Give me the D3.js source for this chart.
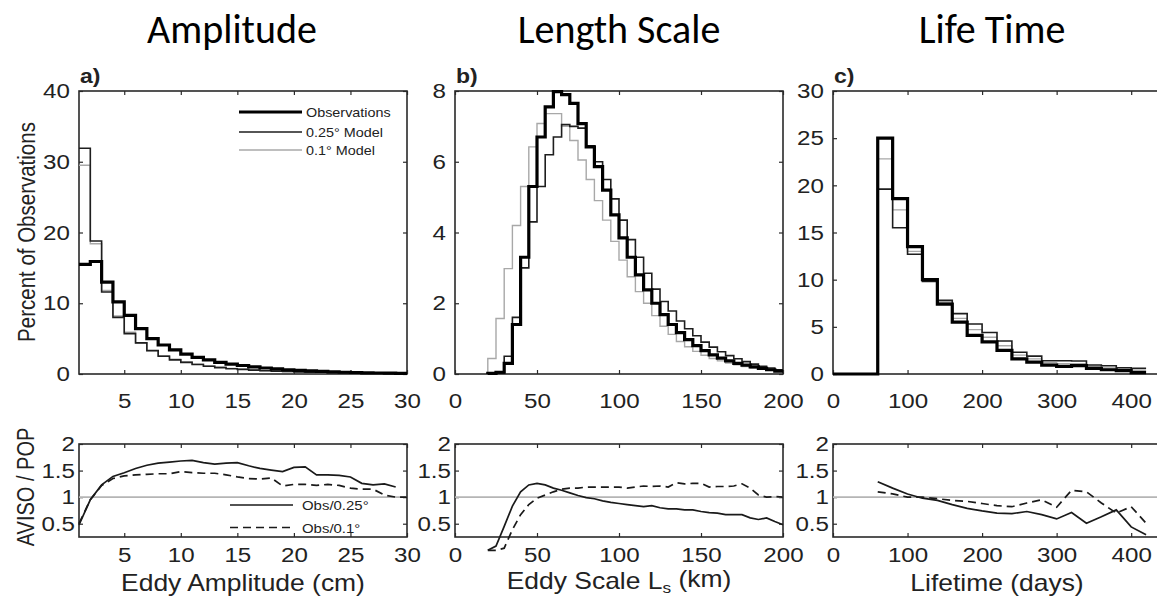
<!DOCTYPE html>
<html>
<head>
<meta charset="utf-8">
<script src="https://cdn.jsdelivr.net/npm/d3@7"></script>
<style>
  body { margin: 0; background: #fff; }
  text { font-family: "Liberation Sans", Arial, Helvetica, sans-serif; fill: #222; }
</style>
</head>
<body>
<div id="chart"></div>
<script>
// ---- panel a: eddy amplitude histograms (1 cm bins, left edges) ----
const ampBins = [1,2,3,4,5,6,7,8,9,10,11,12,13,14,15,16,17,18,19,20,21,22,23,24,25,26,27,28,29];
const ampObs  = [15.5,15.9,13.0,10.2,8.3,6.4,5.0,4.1,3.4,2.8,2.35,2.0,1.65,1.4,1.2,1.0,0.85,0.72,0.6,0.5,0.43,0.36,0.3,0.25,0.21,0.17,0.14,0.12,0.1];
const ampM25  = [31.9,18.8,11.6,8.0,5.7,4.4,3.3,2.5,2.0,1.65,1.35,1.1,0.9,0.75,0.65,0.55,0.45,0.4,0.35,0.3,0.25,0.22,0.19,0.16,0.14,0.12,0.1,0.09,0.08];
const ampM10  = [29.5,18.4,11.8,8.2,5.9,4.4,3.3,2.6,2.1,1.7,1.4,1.15,0.95,0.8,0.68,0.57,0.48,0.41,0.35,0.3,0.26,0.22,0.19,0.16,0.14,0.12,0.1,0.09,0.08];

// ---- panel b: eddy length scale histograms (5 km bins) ----
const lenBins = [20,25,30,35,40,45,50,55,60,65,70,75,80,85,90,95,100,105,110,115,120,125,130,135,140,145,150,155,160,165,170,175,180,185,190,195];
const lenObs  = [0.02,0.05,0.3,1.4,3.3,5.3,6.7,7.55,7.98,7.9,7.65,7.08,6.42,5.86,5.2,4.5,3.85,3.3,2.8,2.38,2.0,1.68,1.4,1.17,0.97,0.8,0.66,0.54,0.45,0.37,0.3,0.25,0.2,0.16,0.12,0.08];
const lenM25  = [0.0,0.02,0.5,1.6,3.0,4.3,5.3,6.2,6.7,7.05,7.0,6.95,6.45,6.0,5.5,4.95,4.35,3.8,3.3,2.85,2.4,2.05,1.78,1.5,1.28,1.08,0.9,0.76,0.63,0.52,0.43,0.35,0.28,0.22,0.17,0.12];
const lenM10  = [0.44,1.57,2.98,4.2,5.3,6.42,7.08,7.36,7.36,7.0,6.6,6.05,5.5,4.9,4.35,3.75,3.22,2.75,2.33,2.0,1.65,1.35,1.12,0.92,0.77,0.64,0.53,0.44,0.37,0.31,0.26,0.21,0.17,0.14,0.11,0.08];

// ---- panel c: eddy lifetime histograms (20 day bins) ----
const lifeBins = [0,20,40,60,80,100,120,140,160,180,200,220,240,260,280,300,320,340,360,380,400];
const lifeObs  = [0,0,0,25.0,18.6,13.5,10.0,7.4,5.5,4.1,3.4,2.5,1.6,1.25,0.95,0.8,0.88,0.6,0.45,0.35,0.15];
const lifeM25  = [0,0,0,19.6,15.5,12.7,9.8,7.8,6.4,5.3,4.4,3.5,2.3,1.9,1.4,1.4,1.38,0.95,0.88,0.67,0.6];
const lifeM10  = [0,0,0,22.8,17.4,13.0,9.9,7.6,5.9,4.7,3.9,3.0,2.0,1.6,1.2,1.1,1.1,0.8,0.65,0.5,0.35];

// ---- ratio panels (AVISO / POP) ----
const ampRatX   = [1,2,3,4,5,6,7,8,9,10,11,12,13,14,15,16,17,18,19,20,21,22,23,24,25,26,27,28,29];
const ampRat25  = [0.48,0.95,1.23,1.39,1.46,1.54,1.6,1.64,1.66,1.68,1.69,1.65,1.62,1.64,1.65,1.59,1.54,1.51,1.48,1.56,1.57,1.42,1.42,1.41,1.38,1.26,1.23,1.25,1.19];
const ampRat10X = [1,2,3,4,5,6,7,8,9,10,11,12,13,14,15,16,17,18,19,20,21,22,23,24,25,26,27,28,29,30];
const ampRat10  = [0.5,0.95,1.22,1.35,1.4,1.42,1.43,1.44,1.44,1.48,1.46,1.45,1.45,1.42,1.38,1.35,1.34,1.36,1.21,1.24,1.24,1.22,1.24,1.22,1.17,1.15,1.15,1.04,1.0,1.0];

const lenRatX  = [20,25,30,35,40,45,50,55,60,65,70,75,80,85,90,95,100,105,110,115,120,125,130,135,140,145,150,155,160,165,170,175,180,185,190,195,200];
const lenRat25 = [0.0,0.08,0.45,0.83,1.1,1.23,1.26,1.23,1.17,1.13,1.08,1.03,0.99,0.97,0.93,0.9,0.88,0.86,0.84,0.82,0.84,0.8,0.78,0.78,0.76,0.76,0.73,0.71,0.7,0.67,0.67,0.67,0.61,0.58,0.61,0.54,0.48];
const lenRat10 = [0.0,0.0,0.04,0.39,0.67,0.86,0.98,1.04,1.1,1.15,1.17,1.17,1.19,1.19,1.19,1.19,1.19,1.17,1.19,1.21,1.2,1.21,1.19,1.27,1.25,1.26,1.26,1.19,1.2,1.2,1.21,1.25,1.17,1.04,1.0,1.01,1.0];

const lifeRatX  = [60,80,100,120,140,160,180,200,220,240,260,280,300,320,340,360,380,400,420];
const lifeRat25 = [1.29,1.17,1.06,0.98,0.94,0.86,0.79,0.74,0.7,0.69,0.73,0.67,0.59,0.71,0.51,0.63,0.76,0.44,0.29];
const lifeRat10 = [1.1,1.06,1.0,1.0,0.97,0.94,0.92,0.88,0.84,0.82,0.89,0.95,0.81,1.13,1.1,0.89,0.7,0.82,0.51];

// ---- labels ----
const titles = ["Amplitude", "Length Scale", "Life Time"];
const panelTags = ["a)", "b)", "c)"];
const legendTop = ["Observations", "0.25° Model", "0.1° Model"];
const legendBot = ["Obs/0.25°", "Obs/0.1°"];

const width = 1157, height = 600;
const SX = 1.15; // the source figure is stretched horizontally
const ink = "#2a2a2a";

const svg = d3.select("#chart").append("svg")
  .attr("width", width).attr("height", height)
  .style("background", "#fff");

const cols = [[79, 407], [455, 783], [833, 1161]];
const topRange = [374, 91];
const botRange = [537, 444];

function txt(g, x, y, s, size, anchor, extra) {
  return g.append("text")
    .attr("transform", `translate(${x},${y}) scale(${SX},1)` + (extra || ""))
    .attr("text-anchor", anchor || "start")
    .style("font-size", size + "px")
    .text(s);
}

function panel(xs, ys, xTicks, yTicks, padX, padY) {
  const g = svg.append("g");
  const [x0, x1] = xs.range();
  const [y0, y1] = ys.range();

  const fix = (a) => {
    a.select(".domain").remove();
    a.selectAll(".tick line").attr("stroke", ink).attr("stroke-width", 1.2);
  };
  const labels = (a) => a.selectAll("text")
    .style("font-size", "21px").attr("fill", "#222")
    .style("font-family", "Liberation Sans, Arial, sans-serif")
    .attr("transform", `scale(${SX},1)`);

  g.append("g").attr("transform", `translate(0,${y0})`)
    .call(d3.axisBottom(xs).tickValues(xTicks).tickSize(-4).tickPadding(padX))
    .call(fix).call(labels);
  g.append("g").attr("transform", `translate(0,${y1})`)
    .call(d3.axisTop(xs).tickValues(xTicks).tickSize(-4).tickFormat(""))
    .call(fix);
  g.append("g").attr("transform", `translate(${x0},0)`)
    .call(d3.axisLeft(ys).tickValues(yTicks).tickSize(-4).tickPadding(padY).tickFormat(d3.format("")))
    .call(fix).call(labels);
  g.append("g").attr("transform", `translate(${x1},0)`)
    .call(d3.axisRight(ys).tickValues(yTicks).tickSize(-4).tickFormat(""))
    .call(fix);

  g.append("rect")
    .attr("x", x0).attr("y", y1)
    .attr("width", x1 - x0).attr("height", y0 - y1)
    .attr("fill", "none").attr("stroke", ink).attr("stroke-width", 1.6);
  return g;
}

function stairs(g, xs, ys, bins, vals, color, w) {
  const step = bins[1] - bins[0];
  const pts = bins.map((b, i) => [b, vals[i]]);
  // rise from the baseline only when the first bin is inside the frame
  if (xs(bins[0]) > xs.range()[0] + 1) pts.unshift([bins[0], 0]);
  pts.push([bins[bins.length - 1] + step, vals[vals.length - 1]]);
  g.append("path")
    .attr("d", d3.line().curve(d3.curveStepAfter).x(d => xs(d[0])).y(d => ys(d[1]))(pts))
    .attr("fill", "none").attr("stroke", color).attr("stroke-width", w)
    .attr("stroke-linejoin", "miter");
}

function ratio(g, xs, ys, xv, yv, dash) {
  g.append("path")
    .attr("d", d3.line().x((d, i) => xs(xv[i])).y(d => ys(d))(yv))
    .attr("fill", "none").attr("stroke", "#1a1a1a").attr("stroke-width", 1.7)
    .attr("stroke-dasharray", dash || null);
}

const topSpecs = [
  { dom: [1, 30], ydom: [0, 40], xt: [5, 10, 15, 20, 25, 30], yt: [0, 10, 20, 30, 40],
    bins: ampBins, obs: ampObs, m25: ampM25, m10: ampM10 },
  { dom: [0, 200], ydom: [0, 8], xt: [0, 50, 100, 150, 200], yt: [0, 2, 4, 6, 8],
    bins: lenBins, obs: lenObs, m25: lenM25, m10: lenM10 },
  { dom: [0, 440], ydom: [0, 30], xt: [0, 100, 200, 300, 400], yt: [0, 5, 10, 15, 20, 25, 30],
    bins: lifeBins, obs: lifeObs, m25: lifeM25, m10: lifeM10 }
];
const botSpecs = [
  { x25: ampRatX, y25: ampRat25, x10: ampRat10X, y10: ampRat10 },
  { x25: lenRatX, y25: lenRat25, x10: lenRatX, y10: lenRat10 },
  { x25: lifeRatX, y25: lifeRat25, x10: lifeRatX, y10: lifeRat10 }
];

const xLabelFns = [
  g => txt(g, 243, 591, "Eddy Amplitude (cm)", 23, "middle"),
  g => {
    const t = txt(g, 619, 589, "", 23, "middle");
    t.append("tspan").text("Eddy Scale L");
    t.append("tspan").attr("dy", "0.25em").style("font-size", "15px").text("s");
    t.append("tspan").attr("dy", "-0.25em").text(" (km)");
  },
  g => txt(g, 997, 591, "Lifetime (days)", 23, "middle")
];

topSpecs.forEach((s, i) => {
  const xs = d3.scaleLinear().domain(s.dom).range(cols[i]);
  const ys = d3.scaleLinear().domain(s.ydom).range(topRange);
  const g = panel(xs, ys, s.xt, s.yt, 19, 8);
  stairs(g, xs, ys, s.bins, s.m10, "#a8a8a8", 1.4);
  stairs(g, xs, ys, s.bins, s.m25, "#1e1e1e", 1.6);
  stairs(g, xs, ys, s.bins, s.obs, "#000", 3.2);

  const yb = d3.scaleLinear().domain([0.25, 2]).range(botRange);
  const gb = panel(xs, yb, s.xt, [0.5, 1, 1.5, 2], 10, 3.5);
  gb.append("line")
    .attr("x1", cols[i][0]).attr("x2", cols[i][1])
    .attr("y1", yb(1)).attr("y2", yb(1))
    .attr("stroke", "#b5b5b5").attr("stroke-width", 1.6);
  const b = botSpecs[i];
  ratio(gb, xs, yb, b.x25, b.y25);
  ratio(gb, xs, yb, b.x10, b.y10, "8,5");

  // panel tag and column title
  svg.append("text")
    .attr("transform", `translate(${cols[i][0] + 1},83) scale(${SX},1)`)
    .style("font-size", "20px").style("font-weight", "bold")
    .text(panelTags[i]);
  svg.append("text")
    .attr("x", [232, 619, 992][i]).attr("y", 43)
    .attr("text-anchor", "middle")
    .style("font-family", "Carlito, Calibri, Lato, sans-serif")
    .style("font-size", "40px").style("fill", "#000")
    .text(titles[i]);
  xLabelFns[i](svg);
});

// y labels
txt(svg, 35, 232, "Percent of Observations", 20.5, "middle", " rotate(-90)");
txt(svg, 34, 487, "AVISO / POP", 20, "middle", " rotate(-90)");

// top legend (panel a)
const legTop = svg.append("g");
[["#000", 3.2], ["#1e1e1e", 1.6], ["#a8a8a8", 1.4]].forEach((st, k) => {
  const y = [112, 132, 150][k];
  legTop.append("line").attr("x1", 239).attr("x2", 302).attr("y1", y).attr("y2", y)
    .attr("stroke", st[0]).attr("stroke-width", st[1]);
  txt(legTop, 306, y + 4.5, legendTop[k], 12.5, "start");
});

// bottom legend (panel a)
const legBot = svg.append("g");
["", "8,5"].forEach((dash, k) => {
  const y = [505, 527.5][k];
  legBot.append("line").attr("x1", 230).attr("x2", 293).attr("y1", y).attr("y2", y)
    .attr("stroke", "#1a1a1a").attr("stroke-width", 1.7)
    .attr("stroke-dasharray", dash || null);
  txt(legBot, 302, y + 5, legendBot[k], 13, "start");
});
</script>
</body>
</html>
